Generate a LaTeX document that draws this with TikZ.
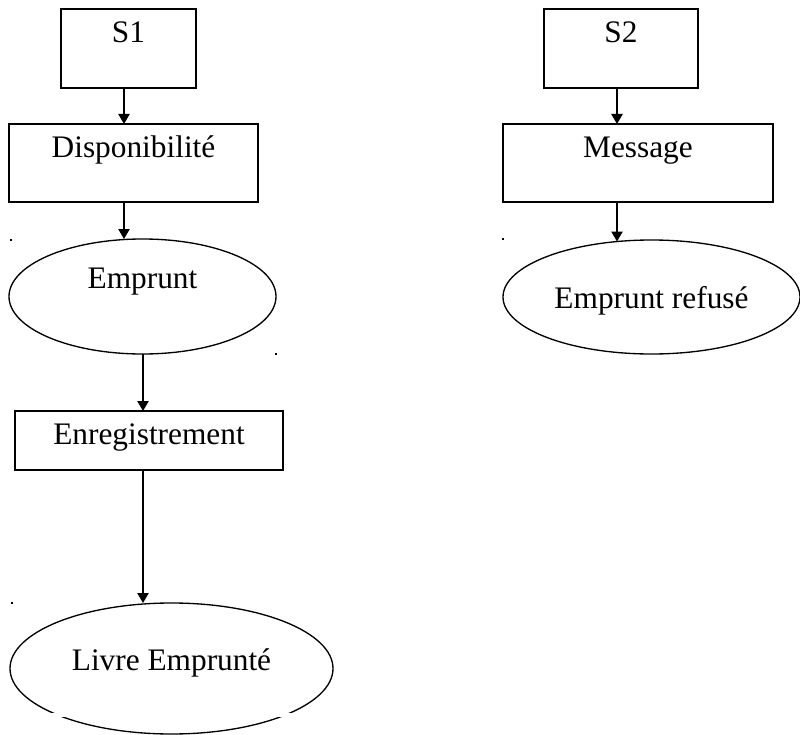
\documentclass[tikz,border=0pt]{standalone}
\usepackage{fontspec}
\setmainfont{Liberation Serif}
\usetikzlibrary{shapes.geometric,arrows.meta,calc}

\begin{document}
\begin{tikzpicture}[x=0.75pt, y=-0.75pt, line width=1pt,
	font=\fontsize{23.5pt}{28pt}\selectfont,
	etape/.style={draw, rectangle, inner sep=0pt, outer sep=0pt, anchor=base},
	etat/.style={draw, ellipse, inner sep=0pt, outer sep=0pt},
	fleche/.style={-{Triangle[length=7.5pt, width=8.5pt]}}]
\useasboundingbox (0,0) rectangle (800,735);

% colonnes des fleches
\coordinate (colA) at (124,0);
\coordinate (colB) at (143,0);
\coordinate (colC) at (617,0);

% branche S1
\node[etape, minimum width=101.25pt, text height=25.5pt, text depth=33.75pt] (s1) at (128.5,43) {S1};
\node[etape, minimum width=186.75pt, text height=24.75pt, text depth=33.75pt] (dispo) at (133.5,157) {Disponibilité};
\node[etat, minimum width=200.25pt, minimum height=86.25pt, text height=15pt, text depth=27.75pt] (emprunt) at (142.5,296.5) {Emprunt};
\node[etape, minimum width=201pt, text height=24.75pt, text depth=19.5pt] (enreg) at (149,444) {Enregistrement};
\node[etat, minimum width=242.25pt, minimum height=98.25pt, text height=15pt, text depth=12.75pt] (livre) at (171.5,668.5) {Livre Emprunté};

% branche S2
\node[etape, minimum width=115.5pt, text height=25.5pt, text depth=33.75pt] (s2) at (621,43) {S2};
\node[etape, minimum width=202.5pt, text height=24.75pt, text depth=33.75pt] (message) at (638,157) {Message};
\node[etat, minimum width=222.75pt, minimum height=85.5pt, text height=22.5pt, text depth=6pt] (refus) at (651.5,297) {Emprunt refusé};

\draw[fleche] (s1.south -| colA) -- (dispo.north -| colA);
\draw[fleche] (dispo.south -| colA) -- (emprunt.north -| colA);
\draw[fleche] (emprunt.south -| colB) -- (enreg.north -| colB);
\draw[fleche] (enreg.south -| colB) -- (livre.north -| colB);
\draw[fleche] (s2.south -| colC) -- (message.north -| colC);
\draw[fleche] (message.south -| colC) -- ($(refus.north -| colC)+(0,1.5)$);

% coupure en bas de l'ellipse
\fill[white] (45,713) rectangle (300,717);

% points isoles
\fill (10,239) rectangle (12,241);
\fill (275,353) rectangle (277,355);
\fill (11,602) rectangle (13,604);
\fill (502,238) rectangle (504,240);
\end{tikzpicture}
\end{document}
